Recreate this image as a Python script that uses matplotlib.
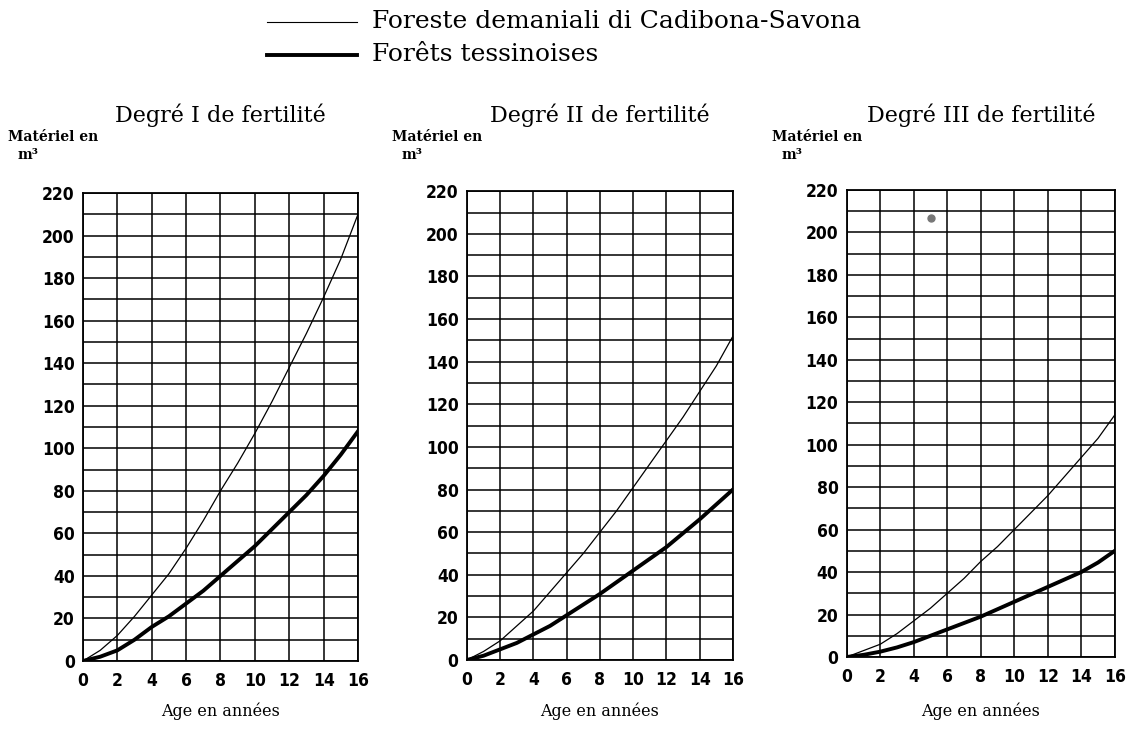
import matplotlib.pyplot as plt

# ages and volumes
ages = list(range(0, 17))

savona_1 = [0, 5, 12, 21, 31, 41, 53, 66, 80, 93, 107, 122, 138, 154, 171, 189, 210]
ticino_1 = [0, 2, 5, 10, 16, 21, 27, 33, 40, 47, 54, 62, 70, 78, 87, 97, 108]

savona_2 = [0, 4, 9, 16, 23, 32, 41, 50, 60, 70, 81, 92, 103, 114, 126, 138, 152]
ticino_2 = [0, 2, 5, 8, 12, 16, 21, 26, 31, 36.5, 42, 47.5, 53, 59.5, 66, 73, 80]

savona_3 = [0, 3, 6, 11, 17, 23, 30, 37, 45, 52, 60, 68, 76, 85, 94, 103, 114]
ticino_3 = [0, 1, 2.5, 4.5, 7, 10, 13, 16, 19, 22.5, 26, 29.5, 33, 36.5, 40, 44.5, 50]

# ink spot in the third panel
spot_x = [5]
spot_y = [207]

titles = ['Degré I de fertilité', 'Degré II de fertilité', 'Degré III de fertilité']
legend_labels = ['Foreste demaniali di Cadibona-Savona', 'Forêts tessinoises']

serif = ['DejaVu Serif']

fig = plt.figure(figsize=(11.29, 7.29), dpi=100)

boxes = [[0.0735, 0.0933, 0.2436, 0.642],
         [0.4136, 0.0947, 0.2356, 0.643],
         [0.750, 0.0988, 0.2374, 0.6406]]
series = [(savona_1, ticino_1), (savona_2, ticino_2), (savona_3, ticino_3)]

for i, (box, (thin, thick), title) in enumerate(zip(boxes, series, titles)):
    ax = fig.add_axes(box)
    ax.plot(ages, thin, color='black', lw=0.9)
    ax.plot(ages, thick, color='black', lw=2.8)
    if i == 2:
        ax.plot(spot_x, spot_y, 'o', color='#777777', ms=5)
    ax.set_xlim(0, 16)
    ax.set_ylim(0, 220)
    ax.set_xticks(range(0, 17, 2))
    ax.set_yticks(range(0, 221, 20))
    ax.set_yticks(range(10, 220, 20), minor=True)
    ax.grid(True, which='both', color='black', lw=1.1)
    ax.tick_params(which='both', length=0, pad=6)
    ax.tick_params(axis='x', pad=8)
    for lab in ax.get_xticklabels() + ax.get_yticklabels():
        lab.set_family('DejaVu Sans')
        lab.set_stretch('condensed')
        lab.set_weight('bold')
        lab.set_size(12.5)
    for s in ax.spines.values():
        s.set_linewidth(1.3)
    cx = box[0] + box[2] / 2
    fig.text(cx, 0.842, title, ha='center', va='center', family=serif, size=16)
    fig.text(cx, 0.012, 'Age en années', ha='center', va='bottom', family=serif, size=11.5)
    fig.text(box[0] - 0.066, 0.812, 'Matériel en', ha='left', va='center',
             family=serif, size=10, weight='bold')
    fig.text(box[0] - 0.058, 0.788, 'm³', ha='left', va='center',
             family=serif, size=10, weight='bold')

# legend drawn at the top
leg = fig.add_axes([0, 0.88, 1, 0.12])
leg.set_xlim(0, 1129)
leg.set_ylim(87.5, 0)
leg.axis('off')
leg.plot([267, 357], [22, 22], color='black', lw=0.8)
leg.plot([267, 357], [55, 55], color='black', lw=2.8)
leg.text(372, 22, legend_labels[0], va='center', family=serif, size=18)
leg.text(372, 55, legend_labels[1], va='center', family=serif, size=18)

fig.savefig('out.png', dpi=100)
